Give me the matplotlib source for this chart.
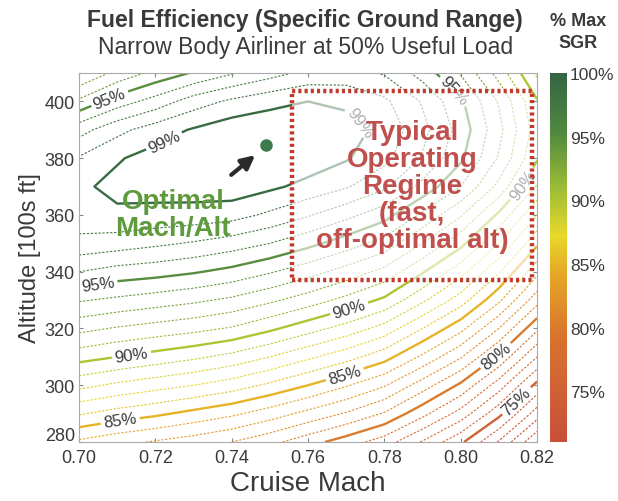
import numpy as np
import matplotlib
matplotlib.use("Agg")
import matplotlib.pyplot as plt
from matplotlib.colors import LinearSegmentedColormap, Normalize
from matplotlib.cm import ScalarMappable
from matplotlib.patches import Rectangle
from matplotlib.transforms import ScaledTranslation

plt.rcParams['font.family'] = ['Liberation Sans', 'DejaVu Sans']

# grid
mach = [0.70, 0.71, 0.72, 0.73, 0.74, 0.75, 0.76, 0.77, 0.78, 0.79, 0.80, 0.81, 0.82]
altitude = [280, 290, 300, 310, 320, 330, 340, 350, 360, 370, 380, 390, 400, 410]

# % of max SGR at each altitude (280 -> 410), one list per Mach
sgr_070 = [83.8, 86.1, 88.3, 90.4, 92.3, 94.1, 96.0, 97.7, 98.6, 98.8, 98.1, 96.6, 94.2, 92.0]
sgr_071 = [83.3, 85.6, 87.8, 90.0, 91.9, 93.8, 95.6, 97.5, 98.8, 99.3, 98.9, 97.7, 95.5, 93.3]
sgr_072 = [82.9, 85.2, 87.4, 89.6, 91.6, 93.5, 95.4, 97.2, 98.7, 99.4, 99.4, 98.5, 96.4, 94.3]
sgr_073 = [82.5, 84.7, 87.0, 89.2, 91.3, 93.2, 95.1, 96.9, 98.6, 99.5, 99.7, 99.1, 97.5, 95.1]
sgr_074 = [82.0, 84.2, 86.5, 88.7, 90.9, 92.8, 94.7, 96.5, 98.4, 99.6, 99.9, 99.6, 98.2, 95.9]
sgr_075 = [81.3, 83.5, 85.8, 88.0, 90.2, 92.2, 94.1, 96.0, 97.8, 99.2, 99.9, 99.7, 98.7, 96.6]
sgr_076 = [80.4, 82.7, 85.0, 87.2, 89.4, 91.5, 93.4, 95.3, 97.1, 98.7, 99.6, 99.7, 99.0, 97.3]
sgr_077 = [79.5, 81.9, 84.1, 86.4, 88.6, 90.7, 92.6, 94.5, 96.3, 98.1, 99.1, 99.4, 98.8, 97.4]
sgr_078 = [78.5, 80.9, 83.1, 85.4, 87.6, 89.8, 91.7, 93.6, 95.4, 97.2, 98.3, 98.7, 98.2, 96.9]
sgr_079 = [76.9, 79.3, 81.5, 83.8, 86.0, 88.2, 90.1, 92.0, 93.8, 95.7, 96.9, 97.3, 96.9, 95.6]
sgr_080 = [75.2, 77.6, 79.8, 82.1, 84.3, 86.5, 88.4, 90.3, 92.1, 94.0, 95.2, 95.6, 95.2, 93.9]
sgr_081 = [72.9, 75.3, 77.5, 79.8, 82.0, 84.2, 86.1, 88.0, 89.8, 91.7, 92.9, 93.3, 92.9, 91.6]
sgr_082 = [70.1, 72.5, 74.7, 77.0, 79.2, 81.4, 83.3, 85.2, 87.0, 88.9, 90.1, 90.5, 90.1, 88.8]

opt_mach, opt_alt = 0.749, 384.5
box_mach = (0.7558, 0.8187)
box_alt = (337.2, 403.5)

cbar_ticks = [75, 80, 85, 90, 95, 100]

Z = np.column_stack([sgr_070, sgr_071, sgr_072, sgr_073, sgr_074, sgr_075, sgr_076,
                     sgr_077, sgr_078, sgr_079, sgr_080, sgr_081, sgr_082])
M, H = np.meshgrid(mach, altitude)

cmap = LinearSegmentedColormap.from_list('sgr', [
    (0.00, '#c8503a'),
    (0.28, '#d8722e'),
    (0.46, '#e6a826'),
    (0.56, '#e8d82a'),
    (0.68, '#a0bf36'),
    (0.84, '#50893f'),
    (1.00, '#336444'),
])
norm = Normalize(71, 100)
text_c = '#3a3a3a'

fig = plt.figure(figsize=(6.18, 5.02), dpi=100)
ax = fig.add_axes([0.128, 0.1175, 0.741, 0.735])

thin_levels = [l for l in range(70, 100) if l not in (75, 80, 85, 90, 95, 99)]
ax.contour(M, H, Z, levels=thin_levels, cmap=cmap, norm=norm,
           linewidths=0.8, linestyles=[(0, (2, 1.5))])
bold = ax.contour(M, H, Z, levels=[75, 80, 85, 90, 95, 99], cmap=cmap, norm=norm,
                  linewidths=1.7)

label_pos = [(0.709, 398), (0.705, 335), (0.797, 402),
             (0.723, 384), (0.774, 393),
             (0.714, 308), (0.771, 326), (0.816, 371),
             (0.711, 285), (0.770, 302),
             (0.810, 309), (0.815, 294)]
ax.clabel(bold, fmt='%d%%', fontsize=12, colors=text_c, inline=True,
          inline_spacing=3, manual=label_pos)

# faded "typical operating regime" box
ax.add_patch(Rectangle((box_mach[0], box_alt[0]), box_mach[1] - box_mach[0],
                       box_alt[1] - box_alt[0], facecolor='white', alpha=0.6,
                       edgecolor='none', zorder=4))
ax.add_patch(Rectangle((box_mach[0], box_alt[0]), box_mach[1] - box_mach[0],
                       box_alt[1] - box_alt[0], facecolor='none',
                       edgecolor='#c0392b', linewidth=3.2,
                       linestyle=(0, (0.7, 0.7)), zorder=5))
ax.text(np.mean(box_mach), np.mean(box_alt),
        'Typical\nOperating\nRegime\n(fast,\noff-optimal alt)',
        ha='center', va='center', fontsize=20, fontweight='bold',
        color='#c0504d', linespacing=1.05, zorder=6)

# optimum
ax.plot(opt_mach, opt_alt, 'o', color='#3d7a4a', markersize=8, zorder=6)
ax.annotate('', xy=(0.7467, 381.7), xytext=(0.7393, 373.5),
            arrowprops=dict(arrowstyle='-|>', color='#2b2b2b', lw=3,
                            mutation_scale=20), zorder=6)
ax.text(0.7246, 360, 'Optimal\nMach/Alt', ha='center', va='center',
        fontsize=20, fontweight='bold', color='#5f9a3c', linespacing=1.05,
        zorder=6)

ax.set_xlim(0.70, 0.82)
ax.set_ylim(280, 410)
ax.set_xticks(mach[::2])
ax.set_xticklabels(['%.2f' % m for m in mach[::2]])
ax.set_yticks(range(280, 401, 20))
ax.tick_params(direction='in', length=3, labelsize=13, labelcolor=text_c,
               color='#888888', top=True, right=True)
ax.tick_params(axis='x', pad=5)
ax.tick_params(axis='y', pad=3)
# the 280 label sits a little above its tick, clear of 0.70
lab280 = ax.get_yticklabels()[0]
lab280.set_transform(lab280.get_transform() + ScaledTranslation(0, 6 / 72, fig.dpi_scale_trans))
for sp in ax.spines.values():
    sp.set_color('#aaaaaa')
    sp.set_linewidth(0.8)
ax.set_xlabel('Cruise Mach', fontsize=20, color=text_c, labelpad=3)
ax.set_ylabel('Altitude [100s ft]', fontsize=17, color=text_c, labelpad=3)

fig.text(0.494, 0.960, 'Fuel Efficiency (Specific Ground Range)', ha='center',
         va='center', fontsize=16.5, fontweight='bold', color=text_c)
fig.text(0.494, 0.906, 'Narrow Body Airliner at 50% Useful Load', ha='center',
         va='center', fontsize=16.5, color=text_c)

# colour bar
cax = fig.add_axes([0.890, 0.1175, 0.0275, 0.735])
cb = fig.colorbar(ScalarMappable(norm=norm, cmap=cmap), cax=cax, ticks=cbar_ticks)
cb.outline.set_visible(False)
cb.ax.set_yticklabels(['%d%%' % t for t in cbar_ticks])
cb.ax.tick_params(length=0, labelsize=12.5, labelcolor=text_c, pad=2)
fig.text(0.935, 0.935, '% Max\nSGR', ha='center', va='center', fontsize=13,
         fontweight='bold', color=text_c, linespacing=1.4)

fig.savefig('out.png', dpi=100, facecolor='white')
